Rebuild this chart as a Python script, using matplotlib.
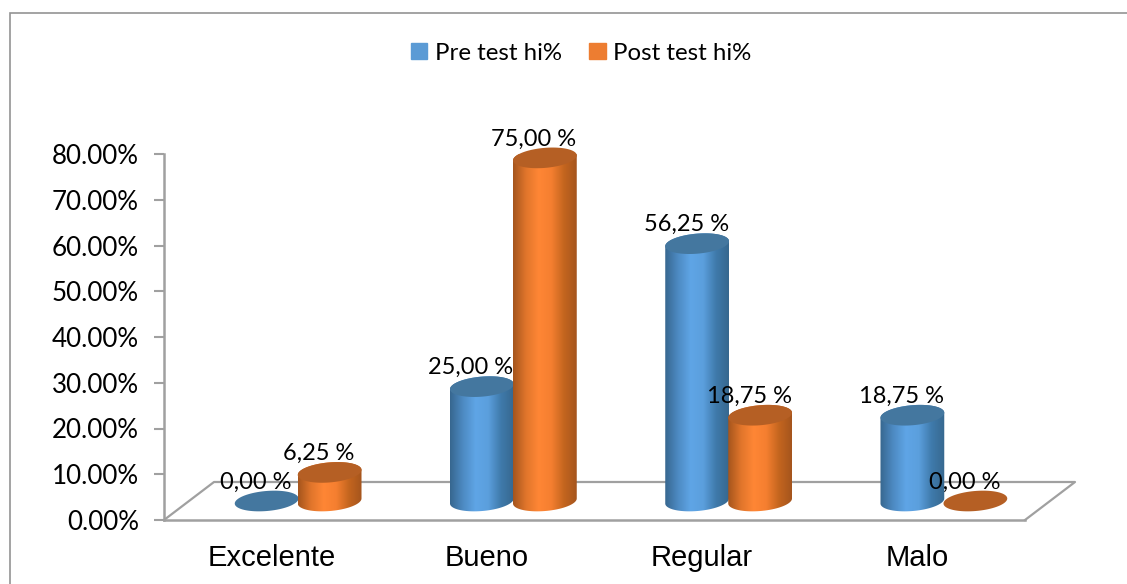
import matplotlib
matplotlib.use('Agg')
import matplotlib.pyplot as plt
import numpy as np
from matplotlib.colors import LinearSegmentedColormap
from matplotlib.patches import Patch, Polygon, Rectangle

categorias = ['Excelente', 'Bueno', 'Regular', 'Malo']
pre_test = [0.00, 25.00, 56.25, 18.75]
post_test = [6.25, 75.00, 18.75, 0.00]
etiquetas_pre = ['0,00 %', '25,00 %', '56,25 %', '18,75 %']
etiquetas_post = ['6,25 %', '75,00 %', '18,75 %', '0,00 %']
ticks_y = [0, 10, 20, 30, 40, 50, 60, 70, 80]

W, H = 1127, 584
GRIS = '#a0a0a0'
FUENTE = 'Lato'

fig = plt.figure(figsize=(W / 100, H / 100), dpi=100)
# ejes en pixeles de la imagen original
ax = fig.add_axes([164 / W, 1 - 520 / H, (1025 - 164) / W, (520 - 154) / H])
ax.set_facecolor('none')

px_x = (1025 - 164) / 4
px_y = (520 - 154) / 80
fondo_x = 50 / px_x     # profundidad del piso
fondo_y = 38 / px_y
ancho = 32 / px_x       # semi ancho del cilindro
alto_el = 10            # semi alto de la elipse, px
giro = np.radians(5)


def elipse(cx, cy, t):
    ex = 32 * np.cos(t) * np.cos(giro) - alto_el * np.sin(t) * np.sin(giro)
    ey = 32 * np.cos(t) * np.sin(giro) + alto_el * np.sin(t) * np.cos(giro)
    return np.column_stack([cx + ex / px_x, cy + ey / px_y])


def cilindro(cx, valor, cmap, tapa, z):
    base = fondo_y / 2
    t_abajo = np.linspace(np.pi, 2 * np.pi, 40)
    t_arriba = np.linspace(0, 2 * np.pi, 80)
    if valor > 0:
        cuerpo = np.vstack([elipse(cx, base, t_abajo),
                            elipse(cx, base + valor, np.linspace(0, np.pi, 40))])
        p = Polygon(cuerpo, closed=True, fc='none', ec='none', zorder=z, clip_on=False)
        ax.add_patch(p)
        grad = np.linspace(0, 1, 128).reshape(1, -1)
        im = ax.imshow(grad, cmap=cmap, aspect='auto', zorder=z, interpolation='bilinear',
                       extent=[cx - ancho, cx + ancho, base - 4, base + valor + 4])
        im.set_clip_path(p)
    ax.add_patch(Polygon(elipse(cx, base + valor, t_arriba), closed=True, fc=tapa, ec='none',
                         zorder=z + 0.1, clip_on=False))


azul = LinearSegmentedColormap.from_list('azul', ['#37678f', '#4d8ac2', '#5fa5e6', '#5b9fdd', '#3f7aab', '#37688f'])
naranja = LinearSegmentedColormap.from_list('naranja', ['#a5551d', '#e0752b', '#ff8635', '#f57f30', '#c4651f', '#a5551d'])

dx = 26.5 / px_x
sep = 31.5 / px_x

# piso en perspectiva
ax.plot([-0.5, -0.5 + fondo_x, 3.5 + fondo_x, 3.5], [0, fondo_y, fondo_y, 0],
        color=GRIS, lw=1.6, clip_on=False, zorder=1)

for i in range(len(categorias)):
    z = 3 + i * 2
    cilindro(i + dx - sep, pre_test[i], azul, '#44779f', z)
    cilindro(i + dx + sep, post_test[i], naranja, '#b55f24', z + 1)

for i in range(len(categorias)):
    for v, s, c in ((pre_test[i], etiquetas_pre[i], -sep), (post_test[i], etiquetas_post[i], sep)):
        ax.annotate(s, (i + dx + c, v + fondo_y / 2), xytext=(-11, 19), textcoords='offset pixels',
                    ha='center', va='center', fontsize=17, family=FUENTE, color='black',
                    zorder=30, annotation_clip=False)

ax.set_xlim(-0.5, 3.5)
ax.set_ylim(0, 80)
ax.set_xticks(range(len(categorias)))
ax.set_xticklabels(categorias, fontsize=21, family='Liberation Sans')
ax.tick_params(axis='x', length=0, pad=17)
ax.set_yticks(ticks_y)
ax.set_yticklabels(['%.2f%%' % t for t in ticks_y], fontsize=18.7, family=FUENTE)
ax.tick_params(axis='y', length=7, width=1.5, color=GRIS, pad=11)
for lado in ('top', 'right'):
    ax.spines[lado].set_visible(False)
for lado in ('left', 'bottom'):
    ax.spines[lado].set_color(GRIS)
    ax.spines[lado].set_linewidth(1.8)

# marco del grafico, sigue mas alla del borde derecho
fig.add_artist(Rectangle((10 / W, -0.05), 1.05, 1.05 - 13 / H, transform=fig.transFigure,
                         fc='none', ec='#949494', lw=1.2))

h = [Patch(color='#5b9bd5', label='Pre test hi%'), Patch(color='#ed7d31', label='Post test hi%')]
fig.legend(handles=h, loc='center', bbox_to_anchor=(581 / W, 1 - 53 / H), ncol=2, frameon=False,
           prop={'family': FUENTE, 'size': 17.3}, handlelength=0.68, handleheight=0.68,
           handletextpad=0.3, columnspacing=1.15)

fig.savefig('out.png', dpi=100)
